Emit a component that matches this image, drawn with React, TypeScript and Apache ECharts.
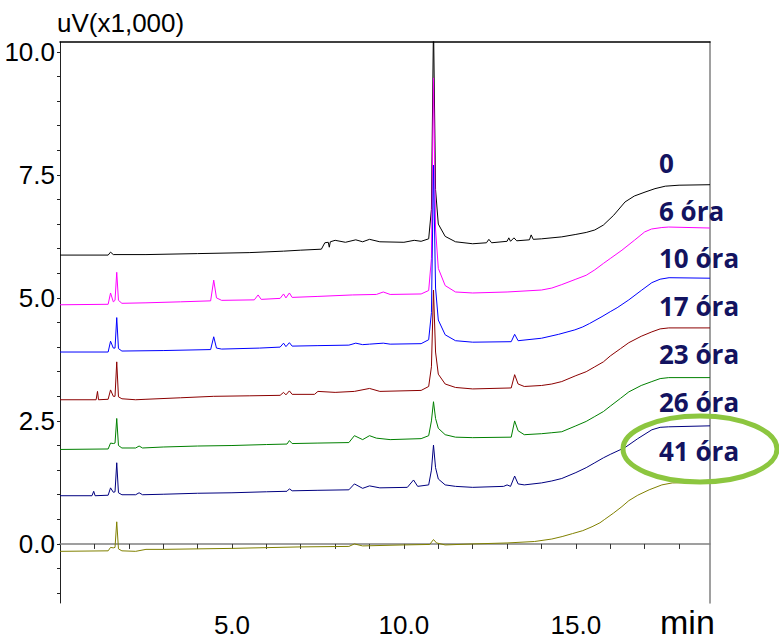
import React, { useEffect, useRef } from 'react';
import * as echarts from 'echarts';

// ---- data (minutes, uV x1000) ----
const seriesNames = ['0', '6 óra', '10 óra', '17 óra', '23 óra', '26 óra', '41 óra'];

const trace0: number[][] = [
  [0, 5.87], [1.40, 5.87], [1.47, 5.93], [1.55, 5.88], [2.5, 5.88], [4.0, 5.9], [5.5, 5.92],
  [6.5, 5.95], [7.0, 5.97], [7.6, 5.99], [7.7, 6.12], [7.8, 6.13], [7.83, 6.03], [7.86, 6.14],
  [8.0, 6.17], [8.3, 6.13], [8.6, 6.18], [8.8, 6.14], [9.0, 6.19], [9.3, 6.14], [10.0, 6.13],
  [10.3, 6.17], [10.5, 6.15], [10.72, 6.2], [10.80, 6.8], [10.86, 10.6], [10.92, 7.2], [11.0, 6.5],
  [11.2, 6.25], [11.5, 6.14], [12.0, 6.1], [12.4, 6.12], [12.47, 6.19], [12.55, 6.12], [13.0, 6.15],
  [13.05, 6.22], [13.1, 6.15], [13.2, 6.22], [13.28, 6.16], [13.65, 6.18], [13.7, 6.28], [13.76, 6.19],
  [14.0, 6.2], [14.59, 6.24], [15.0, 6.29], [15.3, 6.33], [15.55, 6.38], [15.8, 6.48], [16.1, 6.68],
  [16.43, 6.95], [16.7, 7.07], [17.01, 7.15], [17.3, 7.22], [17.6, 7.27], [18.0, 7.29], [18.9, 7.3]
];

const trace6: number[][] = [
  [0, 4.86], [1.40, 4.87], [1.47, 5.1], [1.55, 4.92], [1.60, 4.95], [1.65, 5.52], [1.70, 4.95],
  [1.8, 4.89], [2.5, 4.9], [3.5, 4.92], [4.38, 4.94], [4.47, 5.36], [4.55, 5.0], [4.7, 4.95],
  [5.65, 4.96], [5.76, 5.06], [5.85, 4.97], [6.4, 4.99], [6.5, 5.08], [6.57, 5.0], [6.67, 5.1],
  [6.75, 5.01], [7.5, 5.03], [8.5, 5.06], [9.2, 5.07], [9.4, 5.12], [9.6, 5.07], [10.5, 5.08],
  [10.72, 5.15], [10.80, 5.8], [10.86, 9.47], [10.92, 6.4], [11.0, 5.6], [11.2, 5.25], [11.5, 5.12],
  [12.0, 5.1], [13.0, 5.12], [14.0, 5.16], [14.3, 5.2], [14.59, 5.27], [15.0, 5.38], [15.3, 5.46],
  [15.55, 5.57], [15.8, 5.7], [16.0, 5.8], [16.34, 5.97], [16.7, 6.17], [17.0, 6.34], [17.2, 6.4],
  [17.5, 6.43], [17.7, 6.44], [18.9, 6.42]
];

const trace10: number[][] = [
  [0, 3.9], [1.40, 3.9], [1.47, 4.12], [1.55, 3.98], [1.60, 3.98], [1.65, 4.6], [1.70, 3.97],
  [1.8, 3.92], [3.0, 3.93], [4.38, 3.95], [4.47, 4.21], [4.55, 3.98], [4.7, 3.96], [5.8, 3.98],
  [6.4, 4.0], [6.5, 4.08], [6.57, 4.01], [6.67, 4.09], [6.75, 4.02], [7.5, 4.03], [8.4, 4.04],
  [8.6, 4.08], [8.8, 4.05], [9.0, 4.06], [9.4, 4.08], [9.6, 4.06], [10.5, 4.07], [10.72, 4.15],
  [10.80, 4.7], [10.86, 7.7], [10.92, 5.2], [11.0, 4.55], [11.2, 4.25], [11.5, 4.13], [12.0, 4.1],
  [13.12, 4.11], [13.22, 4.26], [13.32, 4.13], [14.0, 4.18], [14.5, 4.26], [14.97, 4.35],
  [15.2, 4.41], [15.4, 4.48], [15.76, 4.62], [16.0, 4.72], [16.2, 4.8], [16.54, 4.96],
  [16.9, 5.15], [17.21, 5.31], [17.45, 5.38], [17.71, 5.41], [18.9, 5.4]
];

const trace17: number[][] = [
  [0, 2.93], [1.05, 2.93], [1.09, 3.1], [1.12, 2.93], [1.40, 2.94], [1.47, 3.13], [1.55, 3.0],
  [1.60, 3.0], [1.65, 3.7], [1.70, 2.99], [1.8, 2.95], [2.2, 2.93], [2.5, 2.94], [3.5, 2.97],
  [4.47, 3.0], [5.5, 3.01], [6.4, 3.02], [6.5, 3.08], [6.57, 3.03], [6.67, 3.11], [6.75, 3.04],
  [7.4, 3.04], [7.5, 3.1], [8.0, 3.08], [8.56, 3.1], [9.0, 3.16], [9.3, 3.1], [10.5, 3.12],
  [10.72, 3.2], [10.80, 3.6], [10.86, 5.16], [10.92, 3.9], [11.0, 3.45], [11.2, 3.25], [11.5, 3.18],
  [12.0, 3.15], [13.12, 3.17], [13.22, 3.44], [13.32, 3.25], [13.5, 3.2], [14.0, 3.22],
  [14.3, 3.25], [14.59, 3.3], [15.0, 3.42], [15.3, 3.5], [15.55, 3.6], [15.8, 3.7], [16.0, 3.82],
  [16.3, 3.97], [16.54, 4.09], [16.9, 4.22], [17.21, 4.31], [17.45, 4.37], [17.7, 4.39], [18.9, 4.39]
];

const trace23: number[][] = [
  [0, 1.92], [1.40, 1.93], [1.47, 2.05], [1.55, 2.04], [1.60, 2.05], [1.65, 2.55], [1.70, 2.0],
  [1.8, 1.95], [2.2, 1.95], [2.3, 1.99], [2.4, 1.95], [3.0, 1.97], [4.0, 1.99], [5.0, 2.0],
  [6.0, 2.02], [6.6, 2.03], [6.67, 2.1], [6.75, 2.04], [7.5, 2.05], [8.4, 2.06], [8.56, 2.2],
  [8.8, 2.12], [9.0, 2.2], [9.2, 2.15], [9.6, 2.12], [10.5, 2.14], [10.72, 2.2], [10.80, 2.5],
  [10.86, 2.89], [10.92, 2.55], [11.0, 2.35], [11.2, 2.22], [11.5, 2.17], [12.0, 2.16],
  [13.12, 2.17], [13.22, 2.5], [13.32, 2.3], [13.5, 2.22], [14.0, 2.24], [14.3, 2.26],
  [14.59, 2.28], [15.0, 2.4], [15.3, 2.49], [15.55, 2.59], [15.8, 2.69], [16.0, 2.8], [16.3, 2.96],
  [16.54, 3.09], [16.9, 3.22], [17.21, 3.3], [17.45, 3.36], [17.7, 3.38], [18.9, 3.38]
];

const trace26: number[][] = [
  [0, 0.98], [0.93, 0.98], [0.98, 1.07], [1.02, 0.98], [1.40, 0.99], [1.47, 1.14], [1.55, 1.05],
  [1.60, 1.06], [1.65, 1.65], [1.70, 1.04], [1.8, 1.0], [2.2, 1.0], [2.3, 1.04], [2.4, 1.0],
  [3.0, 1.01], [4.0, 1.03], [5.0, 1.04], [6.0, 1.06], [6.6, 1.07], [6.67, 1.12], [6.75, 1.08],
  [7.5, 1.09], [8.4, 1.1], [8.56, 1.22], [8.8, 1.13], [9.0, 1.18], [9.3, 1.14], [10.1, 1.15],
  [10.28, 1.3], [10.4, 1.17], [10.72, 1.2], [10.80, 1.5], [10.86, 2.01], [10.92, 1.55],
  [11.0, 1.32], [11.2, 1.2], [11.5, 1.17], [12.0, 1.15], [12.9, 1.17], [13.0, 1.2], [13.1, 1.17],
  [13.22, 1.38], [13.32, 1.22], [13.5, 1.2], [14.0, 1.24], [14.3, 1.28], [14.59, 1.33],
  [15.0, 1.45], [15.3, 1.55], [15.55, 1.65], [15.8, 1.75], [16.0, 1.82], [16.43, 1.96],
  [16.8, 2.14], [17.21, 2.32], [17.45, 2.37], [17.7, 2.38], [18.9, 2.4]
];

const trace41: number[][] = [
  [0, -0.15], [1.40, -0.14], [1.47, -0.07], [1.55, -0.08], [1.60, -0.07], [1.65, 0.45],
  [1.70, -0.1], [1.8, -0.14], [2.2, -0.15], [2.5, -0.11], [3.0, -0.11], [5.0, -0.09],
  [7.0, -0.06], [8.4, -0.05], [8.56, 0.0], [8.8, -0.04], [10.0, -0.02], [10.75, -0.01],
  [10.86, 0.09], [10.95, 0.02], [11.2, -0.02], [12.0, 0.0], [13.0, 0.02], [13.8, 0.05],
  [14.3, 0.1], [14.6, 0.15], [14.9, 0.21], [15.2, 0.27], [15.47, 0.35], [15.7, 0.43],
  [15.84, 0.5], [16.1, 0.63], [16.34, 0.76], [16.54, 0.88], [16.8, 0.99], [17.13, 1.1],
  [17.5, 1.2], [17.8, 1.24], [18.9, 1.25]
];

const traces = [trace0, trace6, trace10, trace17, trace23, trace26, trace41];

const xTickValues = [1, 2, 3, 4, 5, 6, 7, 8, 9, 10, 11, 12, 13, 14, 15, 16, 17, 18];
const xLabelValues = [5, 10, 15];
const yTickValues = [-1.0, -0.5, 0, 0.5, 1.0, 1.5, 2.0, 2.5, 3.0, 3.5, 4.0, 4.5, 5.0, 5.5, 6.0, 6.5, 7.0, 7.5, 8.0, 8.5, 9.0, 9.5, 10.0];
const yLabelValues = [0, 2.5, 5.0, 7.5, 10.0];

// ---- styling ----
const colors = ['#000000', '#ff00ff', '#0000ff', '#8b0000', '#008000', '#000080', '#808000'];
const axisFont = "'Liberation Sans', Arial, sans-serif";
const labelTops = [163, 211, 258, 306, 354, 402, 451];

export default function App() {
  const ref = useRef<HTMLDivElement>(null);
  useEffect(() => {
    if (!ref.current) return;
    const chart = echarts.init(ref.current, null, { renderer: 'svg' });
    const option: any = {
      animation: false,
      backgroundColor: '#ffffff',
      grid: { left: 60, right: 69, top: 42, bottom: 39, containLabel: false },
      xAxis: [
        {
          type: 'value', min: 0, max: 18.9, position: 'bottom',
          axisLine: { show: true, lineStyle: { color: '#808080', width: 1.5 } },
          axisTick: { show: true, inside: false, length: 5, customValues: xTickValues, lineStyle: { color: '#333' } },
          axisLabel: {
            show: true, customValues: xLabelValues, margin: 9,
            formatter: (v: number) => v.toFixed(1),
            fontFamily: axisFont, fontSize: 26, color: '#000'
          },
          splitLine: { show: false }
        },
        {
          type: 'value', min: 0, max: 18.9, position: 'top',
          axisLine: { show: true, onZero: false, lineStyle: { color: '#000', width: 1.5 } },
          axisTick: { show: false }, axisLabel: { show: false }, splitLine: { show: false }
        }
      ],
      yAxis: [
        {
          type: 'value', min: -1.2, max: 10.2, position: 'left',
          axisLine: { show: true, onZero: false, lineStyle: { color: '#222', width: 1 } },
          axisTick: { show: true, inside: false, length: 3, customValues: yTickValues, lineStyle: { color: '#222' } },
          axisLabel: {
            show: true, customValues: yLabelValues, margin: 5,
            formatter: (v: number) => v.toFixed(1),
            fontFamily: axisFont, fontSize: 26, color: '#000'
          },
          splitLine: { show: false }
        },
        {
          type: 'value', min: -1.2, max: 10.2, position: 'right',
          axisLine: { show: true, onZero: false, lineStyle: { color: '#808080', width: 1.5 } },
          axisTick: { show: false }, axisLabel: { show: false }, splitLine: { show: false }
        }
      ],
      series: traces.map((d, i) => ({
        name: seriesNames[i],
        type: 'line',
        data: d,
        xAxisIndex: 0,
        yAxisIndex: 0,
        showSymbol: false,
        symbol: 'none',
        clip: true,
        lineStyle: { color: colors[i], width: 1 },
        z: 2 + i
      })),
      graphic: [
        {
          type: 'text', left: 57, top: 10,
          style: { text: 'uV(x1,000)', font: `26px ${axisFont}`, fill: '#000' }
        },
        {
          type: 'text', left: 660, top: 605,
          style: { text: 'min', font: `34px ${axisFont}`, fill: '#000' }
        },
        ...seriesNames.map((n, i) => ({
          type: 'text', x: 659, y: labelTops[i],
          style: {
            text: n, fill: '#131360',
            font: "bold 26px 'Open Sans', 'Noto Sans', sans-serif",
            textVerticalAlign: 'middle', verticalAlign: 'middle'
          },
          z: 20
        })),
        {
          type: 'ellipse',
          shape: { cx: 700, cy: 449, rx: 77, ry: 33 },
          style: { fill: 'none', stroke: '#8cc63f', lineWidth: 5 },
          z: 30
        }
      ]
    };
    chart.setOption(option);
    return () => chart.dispose();
  }, []);
  return <div ref={ref} style={{ position: 'fixed', left: 0, top: 0, width: 779, height: 642 }} />;
}
